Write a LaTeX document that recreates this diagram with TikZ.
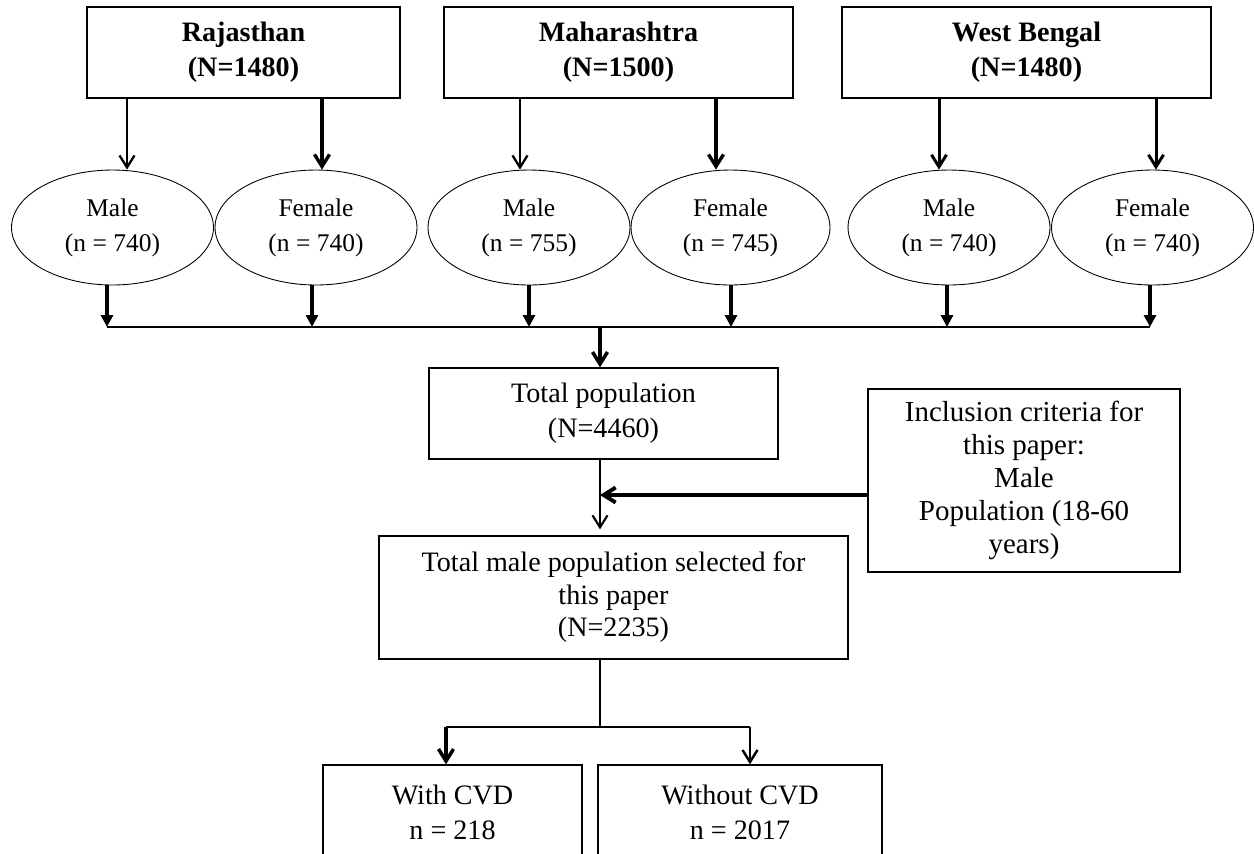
\documentclass[tikz,border=0pt]{standalone}
\usepackage{fontspec}
\setmainfont{Liberation Serif}
\usetikzlibrary{positioning, calc}
\usetikzlibrary{arrows.meta}
\usetikzlibrary{shapes.geometric}

\tikzset{
  regionbox/.style={draw, line width=0.8pt, align=center, minimum height=1.82cm,
    font=\fontsize{16}{20}\selectfont\bfseries},
  sexnode/.style={ellipse, draw, line width=0.5pt, minimum width=4.04cm, minimum height=2.3cm,
    inner sep=0pt, align=center, font=\fontsize{14.5}{20}\selectfont},
  stagebox/.style={draw, line width=0.8pt, align=center, font=\fontsize{16}{20}\selectfont},
  openarrow/.style={line width=1.6pt, -{Straight Barb[length=2.4mm, width=3mm]}},
  filledarrow/.style={line width=1.8pt, -{Triangle[length=2.4mm, width=2.4mm]}},
  thinline/.style={line width=0.7pt},
}

\begin{document}
\begin{tikzpicture}[x=0.02cm, y=-0.02cm]
  \useasboundingbox (0,0) rectangle (1254,853);

  % States
  \node[regionbox, minimum width=6.26cm] (raj) at (243.5,52.5) {Rajasthan\\(N=1480)};
  \node[regionbox, minimum width=6.98cm] (mah) at (618.5,52.5) {Maharashtra\\(N=1500)};
  \node[regionbox, minimum width=7.38cm] (wbg) at (1026.5,52.5) {West Bengal\\(N=1480)};

  % Male and female groups
  \node[sexnode] (rmale) at (112.5,227.5) {Male\\(n = 740)};
  \node[sexnode] (rfem) at (316,227.5) {Female\\(n = 740)};
  \node[sexnode] (mmale) at (529,227.5) {Male\\(n = 755)};
  \node[sexnode, minimum width=3.98cm] (mfem) at (730.5,227.5) {Female\\(n = 745)};
  \node[sexnode] (wmale) at (949,227.5) {Male\\(n = 740)};
  \node[sexnode] (wfem) at (1152.5,227.5) {Female\\(n = 740)};

  % State to groups
  \draw[openarrow, line width=1.3pt] (raj.south -| 127,0) -- (rmale.north -| 127,0);
  \draw[openarrow, line width=1.9pt] (raj.south -| 322,0) -- (rfem.north -| 322,0);
  \draw[openarrow, line width=1.3pt] (mah.south -| 520,0) -- (mmale.north -| 520,0);
  \draw[openarrow, line width=1.9pt] (mah.south -| 716,0) -- (mfem.north -| 716,0);
  \draw[openarrow, line width=1.7pt] (wbg.south -| 939,0) -- (wmale.north -| 939,0);
  \draw[openarrow, line width=1.7pt] (wbg.south -| 1156,0) -- (wfem.north -| 1156,0);

  % Groups to common line
  \coordinate (busL) at (107,327);
  \coordinate (busR) at (1150,327);
  \draw[thinline] (busL) -- (busR);
  \draw[filledarrow] (rmale.south -| busL) -- (busL);
  \draw[filledarrow] (rfem.south -| 312,0) -- (312,0 |- busL);
  \draw[filledarrow] (mmale.south -| 529,0) -- (529,0 |- busL);
  \draw[filledarrow] (mfem.south -| 731,0) -- (731,0 |- busL);
  \draw[filledarrow] (wmale.south -| 947,0) -- (947,0 |- busL);
  \draw[filledarrow] (wfem.south -| busR) -- (busR);

  % Totals
  \node[stagebox, minimum width=6.98cm, minimum height=1.82cm] (tot) at (603.5,413.5)
    {Total population\\(N=4460)};
  \node[stagebox, minimum width=6.24cm, minimum height=3.66cm,
    font=\fontsize{16.5}{18.8}\selectfont] (incl) at (1024,480.5)
    {Inclusion criteria for\\this paper:\\Male\\Population (18-60\\years)};
  \node[stagebox, minimum width=9.38cm, minimum height=2.46cm,
    font=\fontsize{16}{18.5}\selectfont] (sel) at (613.5,597.5)
    {Total male population selected for\\this paper\\(N=2235)};

  \coordinate (spine) at (600,327);
  \coordinate (join) at (600,495);
  \draw[openarrow, line width=2pt] (spine) -- (tot.north -| spine);
  \draw[openarrow, line width=1.2pt, shorten >=1.2mm] (tot.south -| join) -- (sel.north -| join);
  \draw[openarrow, line width=2.2pt] (incl.west |- join) -- (join);

  % CVD split
  \node[stagebox, minimum width=5.18cm, minimum height=1.9cm] (withc) at (452.5,812.5)
    {With CVD\\n = 218};
  \node[stagebox, minimum width=5.68cm, minimum height=1.9cm] (woc) at (740,812.5)
    {Without CVD\\n = 2017};

  \coordinate (fork) at (600,727);
  \draw[thinline] (sel.south -| fork) -- (fork);
  \draw[thinline] (446,0 |- fork) -- (750,0 |- fork);
  \draw[openarrow, line width=2pt] (446,0 |- fork) -- (withc.north -| 446,0);
  \draw[openarrow, line width=1.4pt] (750,0 |- fork) -- (woc.north -| 750,0);
\end{tikzpicture}
\end{document}
